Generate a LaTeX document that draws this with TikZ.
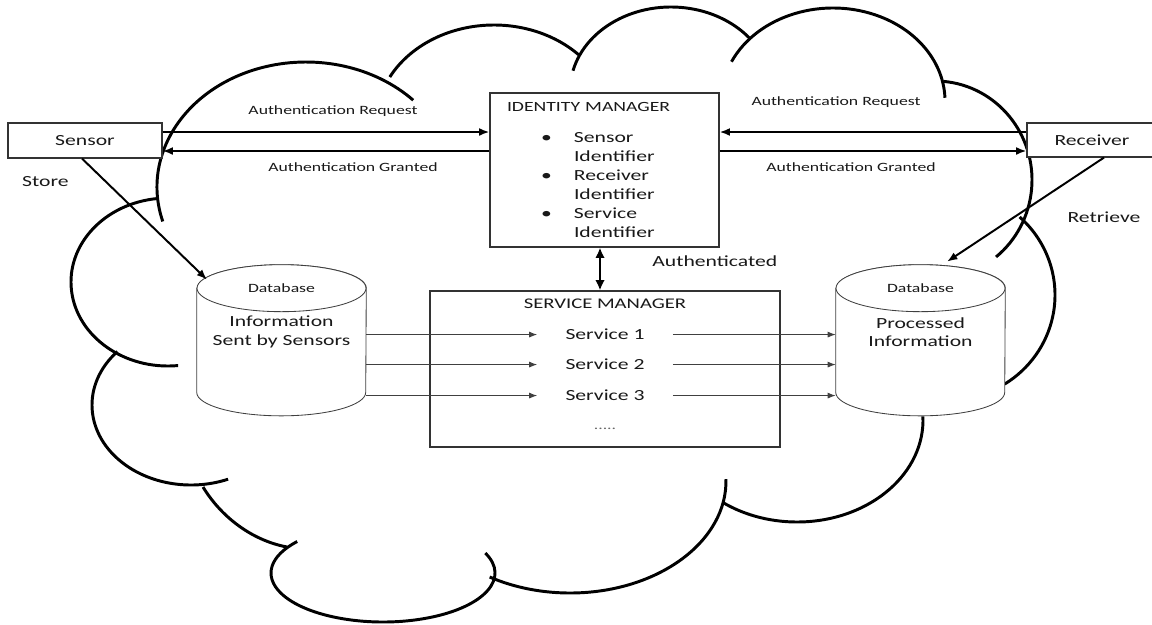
\documentclass[tikz,border=0pt]{standalone}
\usepackage{fontspec}
\setmainfont{Carlito}[FakeStretch=1.4]
\usepackage{tikz}
\usetikzlibrary{arrows.meta,calc,positioning}
\newcommand{\idbul}{\makebox[16.75mm][l]{\hspace{8.5mm}\textbullet}}
\newcommand{\idind}{\makebox[16.75mm]{}}
% one lobe of the cloud: centre x, centre y, x radius, y radius, start, end
\newcommand{\lobe}[6]{\draw[cloud] (#1,#2) ++(#5:#3 and #4)
  arc[start angle=#5, end angle=#6, x radius=#3, y radius=#4];}

\begin{document}
\begin{tikzpicture}[
  x=0.25mm, y=-0.25mm,
  cloud/.style = {line width=2.1pt, draw=black},
  box/.style   = {draw=black!80, fill=white, line width=0.8pt, inner sep=0pt,
                  font=\fontsize{11}{13.5}\selectfont, text=black!90},
  dbody/.style = {inner sep=0pt, minimum width=42.25mm, minimum height=25.9mm},
  dbline/.style= {draw=black!75, fill=white, line width=0.6pt},
  txt/.style   = {font=\fontsize{11}{13.5}\selectfont, text=black!90,
                  inner sep=1pt, align=center},
  lbl/.style   = {font=\fontsize{9}{11}\selectfont, text=black!90, inner sep=1pt},
  svc/.style   = {txt, inner xsep=7mm},
  thk/.style   = {-{Latex[length=2.6mm,width=2mm]}, line width=1.4pt},
  thn/.style   = {-{Latex[length=2mm,width=1.5mm]}, line width=0.7pt,
                  draw=black!75},
]
\useasboundingbox (0,0) rectangle (1152,624);
% cloud
\lobe{306}{187}{149}{125}{164}{316}
\lobe{494}{123}{118}{98}{208}{316}
\lobe{671}{91}{101}{84}{194}{321}
\lobe{833}{101}{112}{93}{205}{358}
\lobe{935}{180}{97}{99}{275}{411}
\lobe{948}{295}{107}{105}{312}{418}
\lobe{797}{420}{126}{102}{-2}{126}
\lobe{570}{481}{156}{112}{-1}{121}
\lobe{383}{573}{112}{49}{-24}{220}
\draw[cloud] (203,487) .. controls (220,515) and (250,540) .. (287,547);
\lobe{191}{405}{99}{80}{222}{68}
\lobe{168}{282}{97}{84}{264}{84}

\node[box, minimum width=38.5mm, minimum height=8.75mm] (sen) at (85,140.5) {Sensor};
\node[box, minimum width=32.5mm, minimum height=8.5mm] (rec) at (1092,140) {Receiver};
\node[box, minimum height=38.5mm, text width=48.75mm, inner xsep=4.25mm,
      align=left] (idm) at (604.5,170)
    {{\fontsize{10}{12}\selectfont IDENTITY MANAGER}\\[8.5pt]
     \idbul Sensor\\ \idind Identifier\\
     \idbul Receiver\\ \idind Identifier\\
     \idbul Service\\ \idind Identifier};
\node[box, minimum width=87.5mm, minimum height=39mm] (svm) at (605,369) {};
\node[txt, font=\fontsize{10.5}{12}\selectfont, below=1.65mm of svm.north] (svmt)
    {SERVICE MANAGER};
\node[svc, on grid, below=7.75mm of svmt] (sv1) {Service 1};
\node[svc, on grid, below=7.5mm of sv1]   (sv2) {Service 2};
\node[svc, on grid, below=7.75mm of sv2]  (sv3) {Service 3};
\node[lbl, text=black!60, on grid, below=8.25mm of sv3] (dots) {.....};

% databases
\node[dbody] (ldb) at (281.5,340.25) {};
\node[dbody] (rdb) at (920.5,340.25) {};
\foreach \d in {ldb,rdb}{
  \draw[dbline] (\d.north west) -- (\d.south west)
    arc[start angle=180, end angle=0, x radius=84.5, y radius=23.5]
    -- (\d.north east)
    arc[start angle=0, end angle=-180, x radius=84.5, y radius=23.5] -- cycle;
  \draw[dbline] (\d.north) ellipse[x radius=84.5, y radius=23.5];
}
\node[lbl] (ldbc) at (ldb.north) {Database};
\node[lbl] (rdbc) at (rdb.north) {Database};
\node[txt] (ldbt) at ($(ldb.north)+(0,44)$) {Information\\Sent by Sensors};
\node[txt] (rdbt) at ($(rdb.north)+(0,44)$) {Processed\\Information};

\foreach \s in {sv1,sv2,sv3}{
  \draw[thn] (\s -| ldb.east) -- (\s.west);
  \draw[thn] (\s.east) -- (\s -| rdb.west);
}

\draw[thk] ($(sen.east)+(0,-8.5)$) -- ($(idm.west |- sen.east)+(0,-8.5)$)
    node[lbl, midway, xshift=1.75mm, yshift=5.25mm] {Authentication Request};
\draw[thk] ($(idm.west |- sen.east)+(0,10.5)$) -- ($(sen.east)+(0,10.5)$)
    node[lbl, midway, xshift=6.75mm, yshift=-4mm] {Authentication Granted};
\draw[thk] ($(rec.west)+(0,-8)$) -- ($(idm.east |- rec.west)+(0,-8)$)
    node[lbl, midway, xshift=-9.25mm, yshift=7.5mm] {Authentication Request};
\draw[thk] ($(idm.east |- rec.west)+(0,11)$) -- ($(rec.west)+(0,11)$)
    node[lbl, midway, xshift=-5.5mm, yshift=-4mm] {Authentication Granted};

\draw[thk, line width=2pt, {Latex[length=2.6mm,width=2.4mm]}-{Latex[length=2.6mm,width=2.4mm]}]
    ($(idm.south)+(-4.5,0)$) -- ($(idm.south |- svm.north)+(-4.5,0)$)
    node[txt, midway, right=12.4mm, yshift=2mm] {Authenticated};

\draw[thk] ($(sen.south)+(-3,0)$) -- ($(ldb.north)+(-74.5,-8.5)$);
\node[txt] (sto) at ($(sen.south west)+(38,23)$) {Store};
\draw[thk] ($(rec.south)+(12,0)$) -- ($(rdb.north)+(26.5,-26.5)$);
\node[txt] (ret) at ($(rec.south)+(12,60)$) {Retrieve};
\end{tikzpicture}
\end{document}
